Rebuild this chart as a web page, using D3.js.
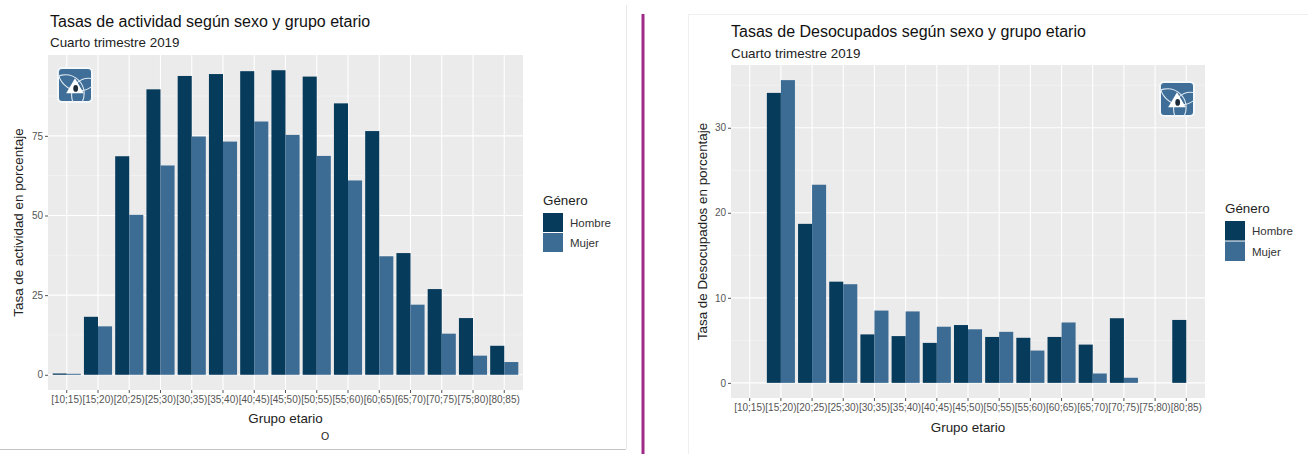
<!DOCTYPE html>
<html>
<head>
<meta charset="utf-8">
<script src="https://cdn.jsdelivr.net/npm/d3@7"></script>
<style>
    body { margin: 0; background: #fff; }
    svg { display: block; font-family: "Liberation Sans", Arial, sans-serif; }
</style>
</head>
<body>
<svg id="chart" width="1308" height="454"></svg>
<script>
// Two ggplot-style dodged bar charts side by side (EPH, cuarto trimestre 2019).

const ageGroups = ["[10;15)", "[15;20)", "[20;25)", "[25;30)", "[30;35)", "[35;40)", "[40;45)",
                   "[45;50)", "[50;55)", "[55;60)", "[60;65)", "[65;70)", "[70;75)", "[75;80)", "[80;85)"];
const genders = ["Hombre", "Mujer"];
const genderColors = ["#073b5c", "#3c6b93"];

// Tasa de actividad (%)
const actividadHombre = [0.4, 18.2, 68.6, 89.6, 93.8, 94.4, 95.3, 95.6, 93.6, 85.2, 76.5, 38.2, 26.9, 17.8, 9.1];
const actividadMujer  = [0.3, 15.2, 50.2, 65.7, 74.8, 73.2, 79.5, 75.3, 68.7, 61.0, 37.2, 22.0, 12.9, 6.0, 4.0];
const actividadTicks = [0, 25, 50, 75];
const actividadMinor = [12.5, 37.5, 62.5, 87.5];

// Tasa de desocupados (%) — null where the group has no bar
const desocHombre = [null, 34.1, 18.7, 11.9, 5.7, 5.5, 4.7, 6.8, 5.4, 5.3, 5.4, 4.5, 7.6, null, 7.4];
const desocMujer  = [null, 35.6, 23.3, 11.6, 8.5, 8.4, 6.6, 6.3, 6.0, 3.8, 7.1, 1.1, 0.6, null, null];
const desocTicks = [0, 10, 20, 30];
const desocMinor = [5, 15, 25, 35];

const svg = d3.select("#chart");

// Panel frames and the purple divider
svg.append("line").attr("x1", 0).attr("x2", 626).attr("y1", 449.5).attr("y2", 449.5)
    .attr("stroke", "#c4c4c4").attr("stroke-width", 1.2);
svg.append("line").attr("x1", 626.5).attr("x2", 626.5).attr("y1", 5).attr("y2", 449)
    .attr("stroke", "#e8e8e8");
svg.append("line").attr("x1", 688.5).attr("x2", 688.5).attr("y1", 14).attr("y2", 454)
    .attr("stroke", "#efefef");
svg.append("line").attr("x1", 688).attr("x2", 1308).attr("y1", 14.5).attr("y2", 14.5)
    .attr("stroke", "#efefef");
svg.append("rect").attr("x", 641.5).attr("y", 14).attr("width", 3).attr("height", 440)
    .attr("fill", "#9e2b86");

function drawLogo(g, x, y, s) {
    const lg = g.append("g").attr("transform", `translate(${x},${y})`);
    const id = "clip" + Math.round(x);
    lg.append("clipPath").attr("id", id)
        .append("rect").attr("width", s).attr("height", s).attr("rx", 4);
    lg.append("rect").attr("width", s).attr("height", s).attr("rx", 4)
        .attr("fill", "#3f6f98").attr("stroke", "#f4f8fb").attr("stroke-width", 2);
    const inner = lg.append("g").attr("clip-path", `url(#${id})`);
    inner.append("circle").attr("cx", s * 0.62).attr("cy", s * 0.05).attr("r", s * 0.62)
        .attr("fill", "none").attr("stroke", "#dfe9f1").attr("stroke-width", 1.1);
    inner.append("circle").attr("cx", s * 0.22).attr("cy", s * 0.75).attr("r", s * 0.55)
        .attr("fill", "none").attr("stroke", "#dfe9f1").attr("stroke-width", 1.1);
    inner.append("circle").attr("cx", s * 0.9).attr("cy", s * 0.8).attr("r", s * 0.5)
        .attr("fill", "none").attr("stroke", "#dfe9f1").attr("stroke-width", 1.1);
    lg.append("path")
        .attr("d", `M${s * 0.5},${s * 0.3} L${s * 0.76},${s * 0.74} L${s * 0.24},${s * 0.74} Z`)
        .attr("fill", "#ffffff");
    lg.append("ellipse").attr("cx", s * 0.52).attr("cy", s * 0.6).attr("rx", s * 0.07).attr("ry", s * 0.1)
        .attr("fill", "#1d2b38");
}

function drawPanel(cfg) {
    const g = svg.append("g");
    const { left, top, right, bottom } = cfg.plot;

    const x = d3.scaleBand().domain(ageGroups).range([left, right])
        .paddingInner(0.1).paddingOuter(0.15);
    const xs = d3.scaleBand().domain(genders).range([0, x.bandwidth()]);
    const yMax = d3.max(cfg.hombre.concat(cfg.mujer));
    const y = d3.scaleLinear().domain([-0.05 * yMax, 1.05 * yMax]).range([bottom, top]);
    const color = d3.scaleOrdinal().domain(genders).range(genderColors);

    // Titles
    g.append("text").attr("x", cfg.titleX).attr("y", cfg.titleY)
        .attr("font-size", 16).attr("fill", "#111").text(cfg.title);
    g.append("text").attr("x", cfg.titleX).attr("y", cfg.subtitleY)
        .attr("font-size", 13.4).attr("fill", "#222").text("Cuarto trimestre 2019");

    // Panel background + grid
    g.append("rect").attr("x", left).attr("y", top)
        .attr("width", right - left).attr("height", bottom - top).attr("fill", "#ebebeb");
    g.selectAll(".minor").data(cfg.minor.filter((v) => y(v) > top)).join("line")
        .attr("x1", left).attr("x2", right).attr("y1", (d) => y(d)).attr("y2", (d) => y(d))
        .attr("stroke", "#f6f6f6").attr("stroke-width", 0.6);
    g.selectAll(".major").data(cfg.ticks).join("line")
        .attr("x1", left).attr("x2", right).attr("y1", (d) => y(d)).attr("y2", (d) => y(d))
        .attr("stroke", "#fff").attr("stroke-width", 1.1);
    g.selectAll(".vgrid").data(ageGroups).join("line")
        .attr("x1", (d) => x(d) + x.bandwidth() / 2).attr("x2", (d) => x(d) + x.bandwidth() / 2)
        .attr("y1", top).attr("y2", bottom)
        .attr("stroke", "#fff").attr("stroke-width", 1.1);

    // Bars
    const rows = [];
    ageGroups.forEach((a, i) => {
        if (cfg.hombre[i] != null) rows.push({ age: a, gender: "Hombre", value: cfg.hombre[i] });
        if (cfg.mujer[i] != null) rows.push({ age: a, gender: "Mujer", value: cfg.mujer[i] });
    });
    g.selectAll(".bar").data(rows).join("rect")
        .attr("x", (d) => x(d.age) + xs(d.gender))
        .attr("width", xs.bandwidth())
        .attr("y", (d) => y(d.value))
        .attr("height", (d) => y(0) - y(d.value))
        .attr("fill", (d) => color(d.gender));

    // Axes
    const yAxis = g.append("g").attr("transform", `translate(${left},0)`)
        .call(d3.axisLeft(y).tickValues(cfg.ticks).tickSize(3).tickPadding(2));
    const xAxis = g.append("g").attr("transform", `translate(0,${bottom})`)
        .call(d3.axisBottom(x).tickSize(3).tickPadding(3));
    [yAxis, xAxis].forEach((ax) => {
        ax.select(".domain").remove();
        ax.selectAll(".tick line").attr("stroke", "#555");
        ax.selectAll(".tick text").attr("fill", "#555").attr("font-size", 10)
            .attr("font-family", "'Liberation Sans', Arial, sans-serif");
    });

    g.append("text").attr("x", (left + right) / 2).attr("y", cfg.xTitleY)
        .attr("text-anchor", "middle").attr("font-size", 13.4).attr("fill", "#222")
        .text("Grupo etario");
    g.append("text")
        .attr("transform", `translate(${cfg.yTitleX},${(top + bottom) / 2}) rotate(-90)`)
        .attr("text-anchor", "middle").attr("font-size", 13.4).attr("fill", "#222")
        .text(cfg.yTitle);

    // Legend
    const lg = g.append("g").attr("transform", `translate(${cfg.legend.x},${cfg.legend.y})`);
    lg.append("text").attr("x", 0).attr("y", 0).attr("font-size", 13.4).attr("fill", "#222").text("Género");
    genders.forEach((gn, i) => {
        lg.append("rect").attr("x", 0).attr("y", 8 + i * cfg.legend.key)
            .attr("width", 20).attr("height", cfg.legend.key - 1).attr("fill", color(gn));
        lg.append("text").attr("x", 27).attr("y", 8 + i * cfg.legend.key + cfg.legend.key / 2)
            .attr("dy", "0.35em").attr("font-size", 11.5).attr("fill", "#333").text(gn);
    });

    drawLogo(g, cfg.logo.x, cfg.logo.y, 34);
    return g;
}

const leftPanel = drawPanel({
    plot: { left: 48, top: 55, right: 523, bottom: 390 },
    hombre: actividadHombre, mujer: actividadMujer,
    ticks: actividadTicks, minor: actividadMinor,
    title: "Tasas de actividad según sexo y grupo etario",
    titleX: 50, titleY: 27, subtitleY: 47,
    xTitleY: 423, yTitleX: 23,
    yTitle: "Tasa de actividad en porcentaje",
    legend: { x: 543, y: 205, key: 20 },
    logo: { x: 58, y: 68 },
});
leftPanel.append("text").attr("x", 325).attr("y", 440).attr("text-anchor", "middle")
    .attr("font-size", 10.5).attr("fill", "#222").text("O");

drawPanel({
    plot: { left: 731, top: 65, right: 1205, bottom: 398 },
    hombre: desocHombre, mujer: desocMujer,
    ticks: desocTicks, minor: desocMinor,
    title: "Tasas de Desocupados según sexo y grupo etario",
    titleX: 731, titleY: 36.5, subtitleY: 58,
    xTitleY: 431.5, yTitleX: 707,
    yTitle: "Tasa de Desocupados en porcentaje",
    legend: { x: 1225, y: 213, key: 20.5 },
    logo: { x: 1160, y: 82 },
});
</script>
</body>
</html>
